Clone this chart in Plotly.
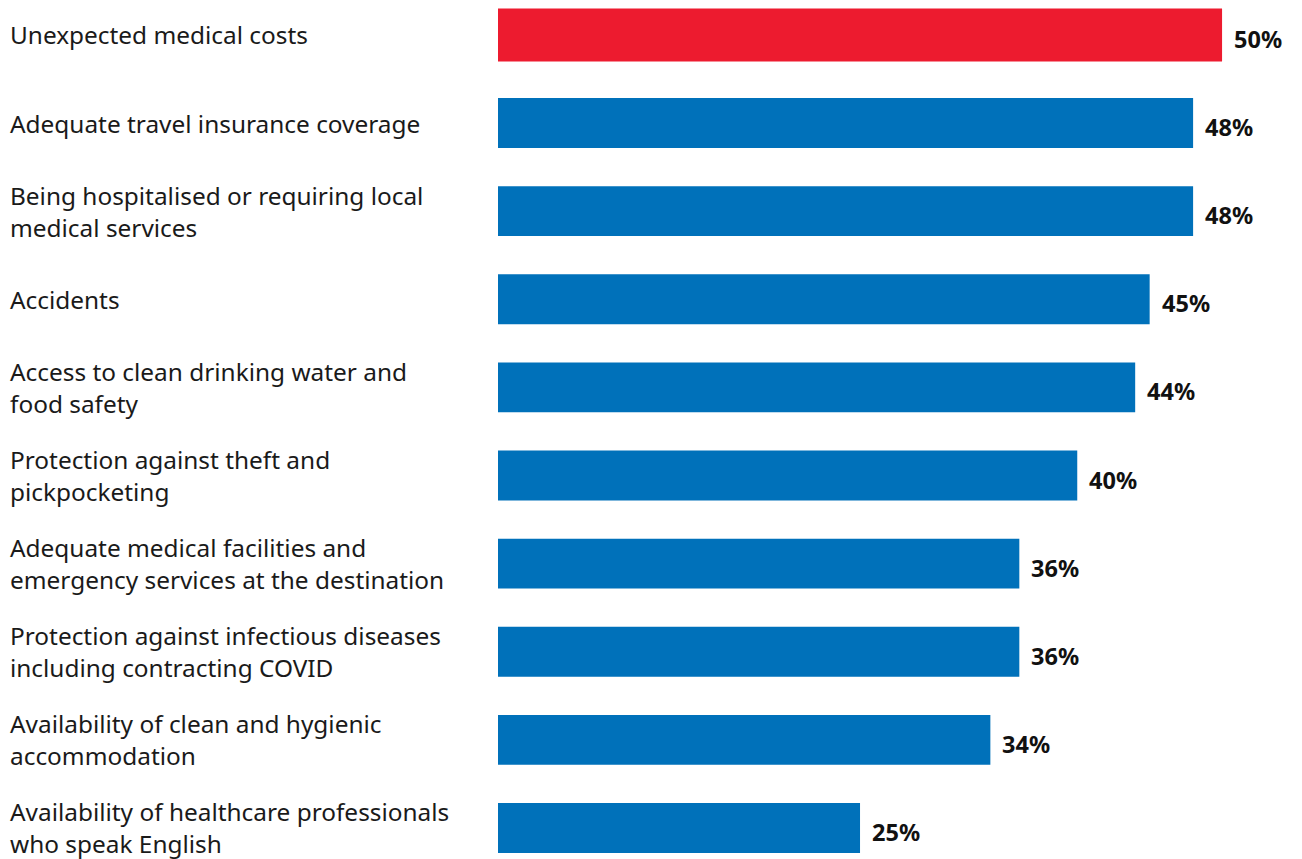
import plotly.graph_objects as go

# Survey responses: share of travellers citing each concern
categories = [
    "Unexpected medical costs",
    "Adequate travel insurance coverage",
    "Being hospitalised or requiring local<br>medical services",
    "Accidents",
    "Access to clean drinking water and<br>food safety",
    "Protection against theft and<br>pickpocketing",
    "Adequate medical facilities and<br>emergency services at the destination",
    "Protection against infectious diseases<br>including contracting COVID",
    "Availability of clean and hygienic<br>accommodation",
    "Availability of healthcare professionals<br>who speak English",
]
values = [50, 48, 48, 45, 44, 40, 36, 36, 34, 25]
value_labels = ["50%", "48%", "48%", "45%", "44%", "40%", "36%", "36%", "34%", "25%"]

RED = "#ED1B2F"
BLUE = "#0071BA"
W, H = 1302, 859
FONT = "Noto Sans"

positions = list(range(len(categories)))
colors = [RED] + [BLUE] * (len(values) - 1)
widths = [0.601] + [0.567] * (len(values) - 1)

fig = go.Figure(
    go.Bar(
        x=values,
        y=positions,
        orientation="h",
        marker=dict(color=colors, line=dict(width=0)),
        width=widths,
        hoverinfo="skip",
    )
)

annotations = []
for pos, cat in zip(positions, categories):
    annotations.append(dict(
        x=8 / W, xref="paper", y=pos, yref="y",
        text=cat, showarrow=False, xanchor="left", yanchor="middle",
        align="left", font=dict(family=FONT, size=24.4, color="#1a1a1a"),
    ))
for pos, val, lab in zip(positions, values, value_labels):
    annotations.append(dict(
        x=val, xref="x", y=pos, yref="y",
        text=f"<b>{lab}</b>", showarrow=False, xanchor="left", yanchor="middle",
        xshift=10, yshift=-4,
        font=dict(family=FONT, size=23.5, color="#111111"),
    ))

fig.update_layout(
    width=W, height=H,
    margin=dict(l=0, r=0, t=0, b=0),
    paper_bgcolor="white", plot_bgcolor="white",
    showlegend=False,
    xaxis=dict(domain=[498 / W, 1], range=[0, 55.52], visible=False, fixedrange=True),
    yaxis=dict(range=[9.352, -0.396], visible=False, fixedrange=True),
    annotations=annotations,
)

fig.write_html("out.html", config={"displayModeBar": False})
